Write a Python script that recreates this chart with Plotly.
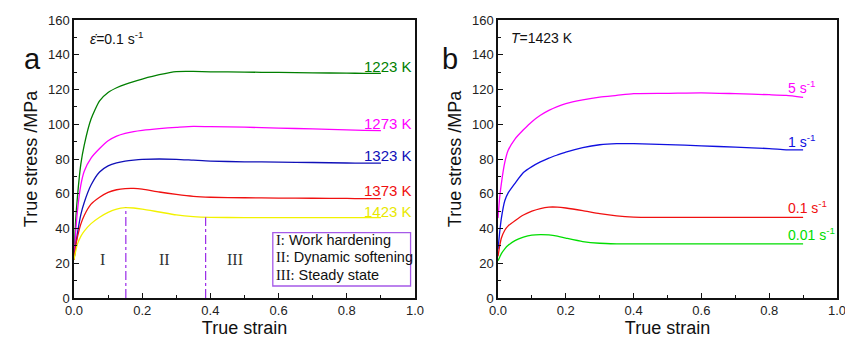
import plotly.graph_objects as go

# ---------------- data ----------------
strain = [0, 0.005, 0.01, 0.02, 0.03, 0.05, 0.075, 0.1, 0.125, 0.15, 0.175, 0.2,
          0.25, 0.3, 0.35, 0.4, 0.5, 0.6, 0.7, 0.8, 0.85, 0.9]

# panel a: strain rate 0.1 s-1, different temperatures
temps = ["1223 K", "1273 K", "1323 K", "1373 K", "1423 K"]
s_1223 = [22, 45, 58, 77, 88, 103, 113.5, 118.3, 121, 123, 124.6, 126,
          128.5, 130.3, 130.4, 130.2, 130, 129.8, 129.6, 129.4, 129.3, 129.3]
s_1273 = [22, 38, 50, 65, 73, 80.5, 86, 90.5, 93.2, 94.8, 95.8, 96.5,
          97.5, 98.2, 98.8, 98.6, 98.3, 97.8, 97.3, 96.8, 96.5, 96.3]
s_1323 = [22, 30, 37, 48, 55, 65, 72.5, 76, 77.8, 78.8, 79.4, 79.8,
          80, 79.8, 79.3, 78.8, 78.4, 78.2, 78, 77.7, 77.6, 77.6]
s_1373 = [22, 30, 35, 42.5, 47.5, 54, 58, 60.8, 62.3, 63, 63.1, 62.7,
          61, 59.6, 58.5, 58, 57.7, 57.5, 57.4, 57.3, 57.2, 57.2]
s_1423 = [22, 27, 31, 35.5, 38.5, 42.8, 46.5, 49.3, 51.2, 52, 51.8, 51.2,
          49.5, 47.8, 46.8, 46.4, 46.3, 46.3, 46.3, 46.3, 46.3, 46.3]

# panel b: T = 1423 K, different strain rates
rates = ["5 s<sup>-1</sup>", "1 s<sup>-1</sup>", "0.1 s<sup>-1</sup>", "0.01 s<sup>-1</sup>"]
r_5 = [46, 58, 66, 78, 85, 91.5, 96.8, 101.5, 105.2, 108, 110.2, 111.9,
       114, 115.6, 116.6, 117.6, 117.8, 118.1, 117.6, 117, 116.6, 115.5]
r_1 = [28, 38, 46, 56, 60.5, 66, 72.2, 75.6, 78.3, 80.5, 82.3, 84,
       86.6, 88.2, 88.8, 88.8, 88.3, 87.6, 86.8, 86, 85.3, 85.2]
r_01 = [24, 30, 34.5, 39, 41.5, 44.5, 47.8, 50, 51.5, 52.3, 52.3, 51.8,
        50.3, 48.6, 47.3, 46.6, 46.4, 46.4, 46.4, 46.4, 46.4, 46.4]
r_001 = [21.5, 23.5, 25.5, 28.3, 30.3, 33, 35, 36.2, 36.5, 36.3, 35.6, 34.5,
         32.5, 31.5, 31.2, 31.1, 31.1, 31.1, 31.2, 31.2, 31.2, 31.2]

# stage boundaries on the 1423 K curve
boundary_strain = [0.152, 0.386]
boundary_stress = [52, 46.5]
stage_labels = ["I", "II", "III"]
stage_x = [0.084, 0.264, 0.472]
stage_y = [22.4, 22.4, 22.4]
legend_lines = ["I: Work hardening", "II: Dynamic softening", "III: Steady state"]

# label positions (data coords)
temp_label_y = [133.5, 100.7, 82.3, 61.8, 49.7]
rate_label_y = [121.7, 90.6, 52.5, 36.9]

xticks = [0.0, 0.2, 0.4, 0.6, 0.8, 1.0]
yticks = [0, 20, 40, 60, 80, 100, 120, 140, 160]

# ---------------- figure ----------------
W, H = 845, 340
SANS = "Liberation Sans, Arial, sans-serif"
SERIF = "Liberation Serif, Times New Roman, serif"

colors_a = ["#007F00", "#FF00FF", "#1010B8", "#F01010", "#F2F200"]
label_colors_a = ["#007F00", "#FF00FF", "#1010B8", "#F01010", "#E8E800"]
colors_b = ["#FF00FF", "#1010E0", "#F01010", "#00DD00"]

fig = go.Figure()

for name, ys, c in zip(temps, [s_1223, s_1273, s_1323, s_1373, s_1423], colors_a):
    fig.add_trace(go.Scatter(x=strain, y=ys, mode="lines", name=name,
                             line=dict(color=c, width=1.3, shape="spline", smoothing=0.6),
                             xaxis="x", yaxis="y", showlegend=False))

for name, ys, c in zip(rates, [r_5, r_1, r_01, r_001], colors_b):
    fig.add_trace(go.Scatter(x=strain, y=ys, mode="lines", name=name,
                             line=dict(color=c, width=1.3, shape="spline", smoothing=0.6),
                             xaxis="x2", yaxis="y2", showlegend=False))

# dash-dot stage boundaries
for bx, by in zip(boundary_strain, boundary_stress):
    fig.add_trace(go.Scatter(x=[bx, bx], y=[0, by], mode="lines",
                             line=dict(color="#9A2BE8", width=1.2, dash="dashdot"),
                             xaxis="x", yaxis="y", showlegend=False))

ann = []
for name, y, c in zip(temps, temp_label_y, label_colors_a):
    ann.append(dict(x=0.845, y=y, xref="x", yref="y", text=name, showarrow=False,
                    xanchor="left", yanchor="middle",
                    font=dict(family=SANS, size=15, color=c)))
for name, y, c in zip(rates, rate_label_y, colors_b):
    ann.append(dict(x=0.85, y=y, xref="x2", yref="y2", text=name, showarrow=False,
                    xanchor="left", yanchor="middle",
                    font=dict(family=SANS, size=14, color=c)))
for t, x, y in zip(stage_labels, stage_x, stage_y):
    ann.append(dict(x=x, y=y, xref="x", yref="y", text=t, showarrow=False,
                    font=dict(family=SERIF, size=16, color="#333333")))
legend_y = [33.4, 23.4, 13.2]
for t, y in zip(legend_lines, legend_y):
    num, rest = t.split(":", 1)
    txt = f"<span style='font-family:Liberation Serif'>{num}:</span>{rest}"
    ann.append(dict(x=0.586, y=y, xref="x", yref="y", text=txt, showarrow=False,
                    xanchor="left", yanchor="middle",
                    font=dict(family=SANS, size=14.5, color="#111111")))
ann.append(dict(x=0.041, y=149.6, xref="x", yref="y",
                text="<i>\u03b5\u0307</i>=0.1 s<sup>-1</sup>", showarrow=False,
                xanchor="left", yanchor="middle",
                font=dict(family=SANS, size=14, color="#111111")))
ann.append(dict(x=0.033, y=149.6, xref="x2", yref="y2",
                text="<i>T</i>=1423 K", showarrow=False,
                xanchor="left", yanchor="middle",
                font=dict(family=SANS, size=14, color="#111111")))
ann.append(dict(x=22 / W, y=1 - 26 / H, xref="paper", yref="paper", text="a",
                showarrow=False, font=dict(family=SANS, size=29, color="#111111")))
ann.append(dict(x=450 / W, y=1 - 26 / H, xref="paper", yref="paper", text="b",
                showarrow=False, font=dict(family=SANS, size=29, color="#111111")))

shapes = [dict(type="rect", xref="x", yref="y", x0=0.583, x1=0.987, y0=6.9, y1=37.6,
               line=dict(color="#A55AE8", width=1.3), fillcolor="rgba(0,0,0,0)")]

def xax(domain):
    return dict(domain=domain, range=[0, 1.0], tickvals=xticks,
                ticktext=[f"{v:.1f}" for v in xticks], automargin=False,
                ticklabeloverflow="allow",
                ticks="inside", ticklen=5, tickwidth=1.2, tickcolor="#111",
                minor=dict(ticks="inside", ticklen=3, tickwidth=1, tickcolor="#111", dtick=0.1),
                showline=True, linecolor="#111", linewidth=1.5, mirror=True,
                showgrid=False, zeroline=False,
                tickfont=dict(family=SANS, size=13, color="#222"),
                title=dict(text="True strain", font=dict(family=SANS, size=18, color="#111"),
                           standoff=4))

def yax(anchor):
    return dict(domain=[0, 1], range=[0, 160], tickvals=yticks, automargin=False,
                ticklabeloverflow="allow",
                ticks="inside", ticklen=5, tickwidth=1.2, tickcolor="#111",
                minor=dict(ticks="inside", ticklen=3, tickwidth=1, tickcolor="#111", dtick=10),
                showline=True, linecolor="#111", linewidth=1.5, mirror=True,
                showgrid=False, zeroline=False, anchor=anchor,
                tickfont=dict(family=SANS, size=13, color="#222"),
                title=dict(text="True stress /MPa", font=dict(family=SANS, size=18, color="#111"),
                           standoff=6))

xa = xax([74 / W, 415 / W]); xa["anchor"] = "y"
xb = xax([498 / W, 837 / W]); xb["anchor"] = "y2"

fig.update_layout(
    width=W, height=H,
    margin=dict(l=0, r=0, t=20, b=42),
    paper_bgcolor="white", plot_bgcolor="white",
    xaxis=xa, yaxis=yax("x"),
    xaxis2=xb, yaxis2=yax("x2"),
    annotations=ann, shapes=shapes,
)

fig.write_html("out.html")
